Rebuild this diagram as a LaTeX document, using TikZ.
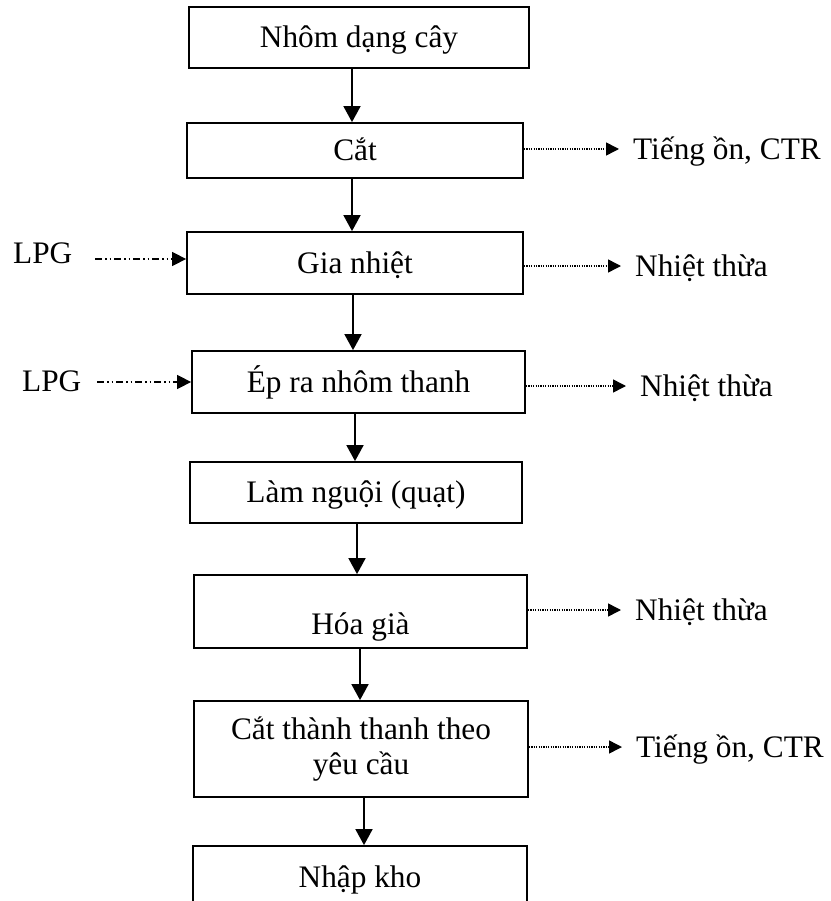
\documentclass[tikz,border=0pt]{standalone}
\usepackage{fontspec}
\setmainfont{Liberation Serif}
\usetikzlibrary{arrows.meta}
\tikzset{
  stage/.style={draw, line width=1.8pt, inner sep=0pt, align=center},
  oneline/.style={text height=20.5pt, text depth=0pt},
  flow/.style={line width=1.8pt, -{Triangle[length=16pt,width=17pt]}},
  waste/.style={line width=1.5pt, dash pattern=on 1.2pt off 1.2pt,
    -{Triangle[length=13pt,width=13pt]}, shorten >=14pt},
  fuel/.style={line width=1.5pt, dash pattern=on 7pt off 3pt on 1.5pt off 3pt on 1.5pt off 3pt,
    -{Triangle[length=14pt,width=14pt]}},
  sidetext/.style={inner sep=0pt, anchor=west, text height=20.5pt, text depth=0pt}
}
\begin{document}
\begin{tikzpicture}[x=1pt, y=-1pt, font=\fontsize{31.3}{35}\selectfont]
            \useasboundingbox (0,0) rectangle (830,901);
            \clip (0,0) rectangle (830,901);
            % process steps
            \node[stage, oneline, minimum width=340pt, minimum height=61pt] (nhom) at (359,37.5) {Nhôm dạng cây};
            \node[stage, oneline, minimum width=336pt, minimum height=55pt] (cat) at (355,150.5) {Cắt};
            \node[stage, oneline, minimum width=336pt, minimum height=62pt] (gianhiet) at (355,263) {Gia nhiệt};
            \node[stage, oneline, minimum width=333pt, minimum height=62pt] (ep) at (358.5,382) {Ép ra nhôm thanh};
            \node[stage, oneline, minimum width=332pt, minimum height=61pt] (lamnguoi) at (356,492.5) {Làm nguội (quạt)};
            \node[stage, oneline, minimum width=333pt, minimum height=73pt] (hoagia) at (360.5,611.5) {\raisebox{-13pt}{Hóa già}};
            \node[stage, minimum width=334pt, minimum height=96pt] (catthanh) at (361,749) {Cắt thành thanh theo\\yêu cầu};
            \node[stage, oneline, minimum width=334pt, minimum height=62pt] (nhapkho) at (360,877) {Nhập kho};
            % main flow
            \draw[flow] ([xshift=-7pt]nhom.south) -- ([xshift=-7pt]nhom.south |- cat.north);
            \draw[flow] ([xshift=-3pt]cat.south) -- ([xshift=-3pt]cat.south |- gianhiet.north);
            \draw[flow] ([xshift=-2pt]gianhiet.south) -- ([xshift=-2pt]gianhiet.south |- ep.north);
            \draw[flow] ([xshift=-3.5pt]ep.south) -- ([xshift=-3.5pt]ep.south |- lamnguoi.north);
            \draw[flow] ([xshift=1pt]lamnguoi.south) -- ([xshift=1pt]lamnguoi.south |- hoagia.north);
            \draw[flow] ([xshift=-0.5pt]hoagia.south) -- ([xshift=-0.5pt]hoagia.south |- catthanh.north);
            \draw[flow] ([xshift=3pt]catthanh.south) -- ([xshift=3pt]catthanh.south |- nhapkho.north);
            % outputs
            \node[sidetext] (ocat) at (633,149) {Tiếng ồn, CTR};
            \node[sidetext] (ogia) at (635,266) {Nhiệt thừa};
            \node[sidetext] (oep) at (640,386) {Nhiệt thừa};
            \node[sidetext] (ohoa) at (635,610) {Nhiệt thừa};
            \node[sidetext] (ocatth) at (636,747) {Tiếng ồn, CTR};
            \draw[waste] (cat.east |- ocat) -- (ocat.west);
            \draw[waste] (gianhiet.east |- ogia) -- (ogia.west);
            \draw[waste] (ep.east |- oep) -- (oep.west);
            \draw[waste] (hoagia.east |- ohoa) -- (ohoa.west);
            \draw[waste] (catthanh.east |- ocatth) -- (ocatth.west);
            % fuel inputs
            \node[sidetext] (lpg1) at (13,253) {LPG};
            \node[sidetext] (lpg2) at (22,381) {LPG};
            \coordinate (f1) at (95,259);
            \coordinate (f2) at (97,382);
            \draw[fuel] (f1) -- (gianhiet.west |- f1);
            \draw[fuel] (f2) -- (ep.west |- f2);
\end{tikzpicture}
\end{document}
